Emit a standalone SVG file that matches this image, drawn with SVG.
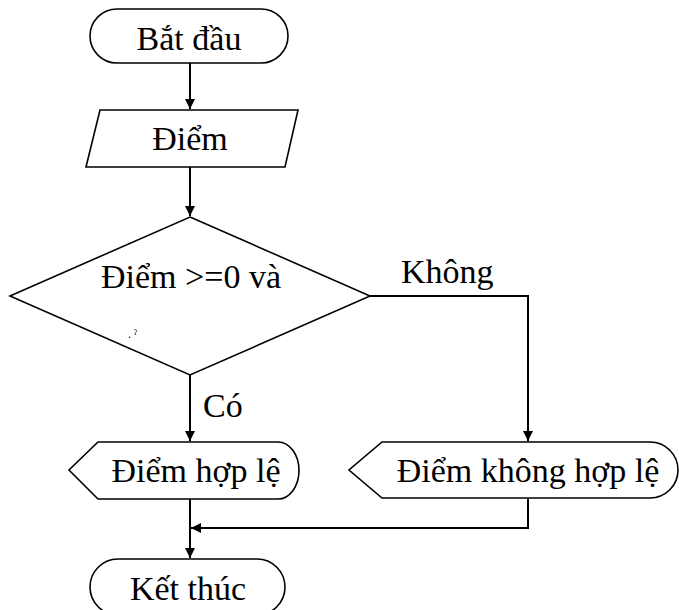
<svg xmlns="http://www.w3.org/2000/svg" width="679" height="610" viewBox="0 0 679 610">
<style>
.s{fill:#fff;stroke:#000;stroke-width:1.6}
.c{fill:none;stroke:#000;stroke-width:2}
text{font-family:'Liberation Serif','Times New Roman','DejaVu Serif',serif;font-size:34px;fill:#000}
.t{text-anchor:middle}
</style>
<defs>
<marker id="a" viewBox="0 0 10 10" refX="10" refY="5" markerWidth="5" markerHeight="6.5" markerUnits="strokeWidth" orient="auto">
<path d="M0,0 L10,5 L0,10 Z" fill="#000"/>
</marker>
</defs>
<rect width="679" height="610" fill="#fff"/>
<g id="connectors">
<path class="c" d="M190,63 L190,109" marker-end="url(#a)"/>
<path class="c" d="M190,167 L190,216" marker-end="url(#a)"/>
<path class="c" d="M370,296 L528,296 L528,441" marker-end="url(#a)"/>
<path class="c" d="M190,375 L190,441" marker-end="url(#a)"/>
<path class="c" d="M528,499 L528,528 L191,528" marker-end="url(#a)"/>
<path class="c" d="M190,499 L190,558" marker-end="url(#a)"/>
<text x="401" y="283">Không</text>
<text x="203" y="417">Có</text>
</g>
<g id="start">
<rect class="s" x="90" y="9" width="198" height="54" rx="27"/>
<text class="t" x="189" y="50">Bắt đầu</text>
</g>
<g id="input">
<polygon class="s" points="100,110 298,110 285,167 86,167"/>
<text class="t" x="190" y="150">Điểm</text>
</g>
<g id="decision">
<polygon class="s" points="190,217 370,296 190,375 10,296"/>
<text class="t" x="191" y="288">Điểm &gt;=0 và</text>
<text x="128" y="338" style="font-size:12px">. ˀ</text>
</g>
<g id="valid">
<path class="s" d="M98,442 L278,442 A21,28.5 0 0 1 278,499 L98,499 L69,470 Z"/>
<text class="t" x="196" y="482">Điểm hợp lệ</text>
</g>
<g id="invalid">
<path class="s" d="M382,442 L650,442 A28,28 0 0 1 650,498 L382,498 L349,470 Z"/>
<text class="t" x="528" y="482">Điểm không hợp lệ</text>
</g>
<g id="end">
<rect class="s" x="90" y="559" width="195" height="56" rx="28"/>
<text class="t" x="188" y="600">Kết thúc</text>
</g>
</svg>
